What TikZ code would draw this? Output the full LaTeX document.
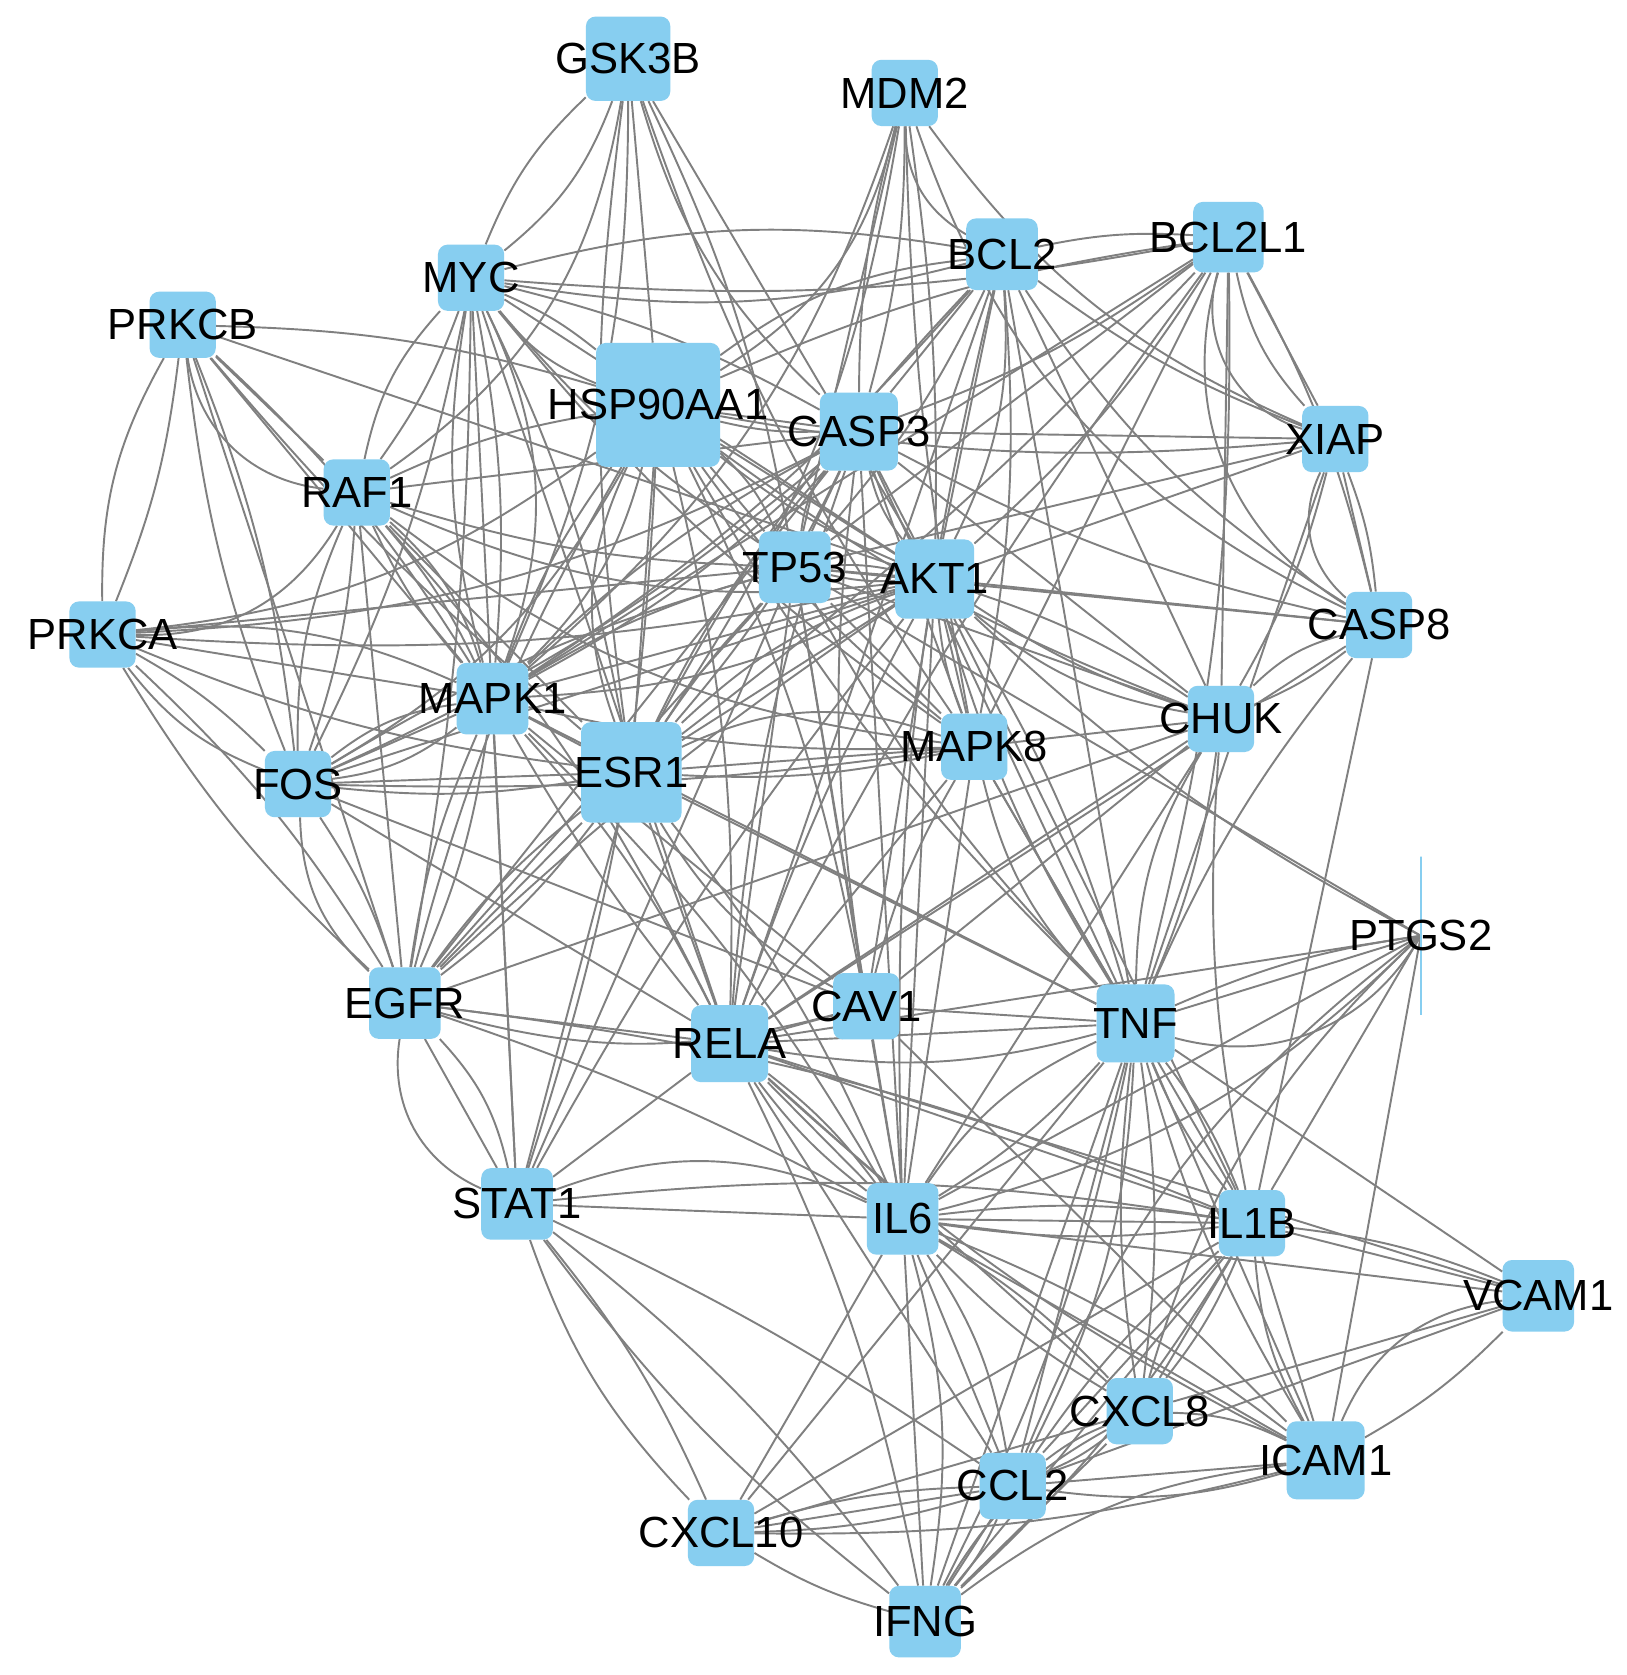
\documentclass[tikz,border=0pt]{standalone}
\usepackage{fontspec}
\setmainfont{Liberation Sans}
\usetikzlibrary{backgrounds}
\definecolor{nodeblue}{RGB}{135,206,240}
\definecolor{edgegray}{RGB}{128,128,128}
\begin{document}
\begin{tikzpicture}[x=1pt,y=-1pt,
  gene/.style={rectangle,rounded corners=9pt,fill=nodeblue,draw=none,inner sep=0pt,minimum width=#1,minimum height=#1},
  lbl/.style={inner sep=0pt,text=black,font=\fontsize{40.8}{48}\selectfont},
  edge/.style={draw=edgegray,line width=1.8pt},
  ptgsbar/.style={rectangle,draw=nodeblue,line width=1.5pt,fill=none,inner sep=0pt,minimum width=0pt,minimum height=148pt}]
\useasboundingbox (0,0) rectangle (1523,1568);
% nodes
\node[gene=79pt] (gsk) at (588,55) {};
\node[gene=62pt] (mdm2) at (847,87) {};
\node[gene=67pt] (bcl2) at (938,238) {};
\node[gene=66pt] (bcl2l1) at (1150,222) {};
\node[gene=62pt] (myc) at (441,260) {};
\node[gene=62pt] (prkcb) at (171,304) {};
\node[gene=116pt] (hsp) at (616,379) {};
\node[gene=73pt] (casp3) at (804,404) {};
\node[gene=62pt] (xiap) at (1250,411) {};
\node[gene=62pt] (raf) at (334,461) {};
\node[gene=67pt] (tp53) at (744,531) {};
\node[gene=74pt] (akt1) at (875,542) {};
\node[gene=62pt] (casp8) at (1291,585) {};
\node[gene=62pt] (prkca) at (96,594) {};
\node[gene=67pt] (mapk1) at (461,654) {};
\node[gene=62pt] (chuk) at (1143,673) {};
\node[gene=62pt] (mapk8) at (912,699) {};
\node[gene=62pt] (fos) at (279,734) {};
\node[gene=94pt] (esr1) at (591,723) {};
\node[ptgsbar] (ptgs) at (1330,876) {};
\node[gene=67pt] (egfr) at (379,939) {};
\node[gene=62pt] (cav1) at (811,942) {};
\node[gene=72pt] (rela) at (683,977) {};
\node[gene=73pt] (tnf) at (1063,958) {};
\node[gene=67pt] (stat1) at (484,1127) {};
\node[gene=67pt] (il6) at (845,1141) {};
\node[gene=62pt] (il1b) at (1172,1145) {};
\node[gene=67pt] (vcam1) at (1440,1213) {};
\node[gene=62pt] (cxcl8) at (1067,1321) {};
\node[gene=73pt] (icam1) at (1241,1367) {};
\node[gene=62pt] (ccl2) at (948,1391) {};
\node[gene=62pt] (cxcl10) at (675,1435) {};
\node[gene=67pt] (ifng) at (866,1518) {};
% edges
\begin{pgfonlayer}{background}
\fill[white] (0,0) rectangle (1523,1568);
\foreach \a/\b/\c in {
gsk/myc/10, gsk/myc/-8, gsk/raf/15, gsk/mapk1/8, gsk/hsp/0, gsk/esr1/-5, gsk/tp53/5, gsk/akt1/0, gsk/casp3/-10, gsk/mapk8/-5,
mdm2/hsp/15, mdm2/casp3/5, mdm2/casp3/-5, mdm2/tp53/0, mdm2/akt1/3, mdm2/esr1/8, mdm2/mapk1/10, mdm2/bcl2/-20, mdm2/xiap/-10, mdm2/casp8/-15, mdm2/mapk8/-3,
bcl2/myc/8, bcl2/myc/-8, bcl2/hsp/-10, bcl2/casp3/0, bcl2/tp53/5, bcl2/akt1/0, bcl2/akt1/10, bcl2/mapk1/5, bcl2/esr1/-5, bcl2/mapk8/5, bcl2/bcl2l1/5, bcl2/xiap/-5, bcl2/casp8/-8, bcl2/chuk/0, bcl2/tnf/0, bcl2/il6/-5, bcl2/rela/0,
bcl2l1/myc/5, bcl2l1/xiap/-10, bcl2l1/xiap/0, bcl2l1/xiap/-30, bcl2l1/casp8/-25, bcl2l1/casp8/5, bcl2l1/casp3/5, bcl2l1/tp53/0, bcl2l1/akt1/5, bcl2l1/hsp/-5, bcl2l1/mapk1/0, bcl2l1/esr1/3, bcl2l1/mapk8/0, bcl2l1/chuk/0, bcl2l1/tnf/5, bcl2l1/rela/-3,
myc/hsp/5, myc/hsp/-10, myc/casp3/5, myc/tp53/-5, myc/akt1/0, myc/raf/5, myc/raf/-10, myc/mapk1/5, myc/mapk1/-8, myc/mapk1/15, myc/fos/5, myc/esr1/5, myc/egfr/3, myc/stat1/0, myc/mapk8/-5, myc/rela/0,
prkcb/hsp/5, prkcb/akt1/0, prkcb/raf/-25, prkcb/raf/0, prkcb/mapk1/0, prkcb/mapk1/5, prkcb/esr1/-3, prkcb/fos/5, prkcb/fos/-5, prkcb/prkca/5, prkcb/prkca/-10, prkcb/egfr/0,
raf/hsp/5, raf/casp3/0, raf/tp53/-5, raf/akt1/-10, raf/mapk1/5, raf/mapk1/-5, raf/mapk1/10, raf/mapk8/-10, raf/esr1/0, raf/fos/5, raf/fos/-8, raf/egfr/0, raf/prkca/20, raf/rela/5,
prkca/mapk1/0, prkca/mapk1/10, prkca/fos/5, prkca/fos/-10, prkca/egfr/5, prkca/egfr/-5, prkca/esr1/-5, prkca/hsp/-10, prkca/akt1/-5, prkca/tp53/0, prkca/casp3/-8,
mapk1/hsp/5, mapk1/hsp/-10, mapk1/casp3/5, mapk1/casp3/-5, mapk1/tp53/5, mapk1/akt1/0, mapk1/akt1/-8, mapk1/fos/10, mapk1/fos/-10, mapk1/fos/0, mapk1/esr1/0, mapk1/egfr/5, mapk1/egfr/-5, mapk1/stat1/0, mapk1/rela/5, mapk1/rela/-3, mapk1/cav1/0, mapk1/mapk8/-5, mapk1/tnf/0, mapk1/il6/5,
esr1/hsp/0, esr1/hsp/15, esr1/casp3/5, esr1/casp3/-5, esr1/tp53/3, esr1/akt1/0, esr1/akt1/8, esr1/fos/0, esr1/fos/5, esr1/egfr/5, esr1/egfr/-5, esr1/egfr/0, esr1/stat1/0, esr1/rela/0, esr1/cav1/-10, esr1/mapk8/0, esr1/mapk8/-5, esr1/mapk8/15, esr1/tnf/0, esr1/il6/5,
fos/mapk8/-3, fos/egfr/5, fos/egfr/-15, fos/rela/0, fos/cav1/0, fos/tp53/5, fos/akt1/0, fos/hsp/-10, fos/casp3/-5,
egfr/hsp/5, egfr/tp53/0, egfr/akt1/3, egfr/casp3/0, egfr/stat1/10, egfr/stat1/-25, egfr/stat1/0, egfr/rela/0, egfr/cav1/-10, egfr/il6/3, egfr/il1b/5,
stat1/tp53/0, stat1/akt1/3, stat1/hsp/-5, stat1/il6/0, stat1/il6/15, stat1/il1b/5, stat1/cxcl10/5, stat1/cxcl10/-8, stat1/ifng/5, stat1/ifng/-5, stat1/ccl2/3,
cav1/tp53/0, cav1/akt1/0, cav1/casp3/5, cav1/rela/0, cav1/tnf/0, cav1/il6/0, cav1/mapk8/5, cav1/chuk/0, cav1/icam1/0, cav1/hsp/-5,
rela/tp53/0, rela/akt1/3, rela/casp3/5, rela/hsp/-5, rela/chuk/0, rela/tnf/0, rela/tnf/-8, rela/il6/5, rela/il6/-5, rela/il6/0, rela/il1b/0, rela/cxcl8/0, rela/icam1/-5, rela/vcam1/0, rela/ccl2/0, rela/ifng/5, rela/stat1/0, rela/mapk8/0,
tnf/akt1/5, tnf/akt1/-5, tnf/tp53/5, tnf/casp3/0, tnf/casp8/5, tnf/chuk/10, tnf/chuk/-5, tnf/xiap/0, tnf/mapk8/0, tnf/mapk8/10, tnf/ptgs/-25, tnf/ptgs/0, tnf/ptgs/5, tnf/il6/5, tnf/il6/-10, tnf/il1b/5, tnf/il1b/-5, tnf/vcam1/0, tnf/icam1/0, tnf/icam1/-5, tnf/cxcl8/5, tnf/cxcl8/-5, tnf/ccl2/0, tnf/ccl2/8, tnf/cxcl10/0, tnf/ifng/0, tnf/ifng/5, tnf/hsp/5,
ptgs/tp53/0, ptgs/akt1/5, ptgs/il6/0, ptgs/il6/10, ptgs/il1b/0, ptgs/cxcl8/-10, ptgs/ccl2/-10, ptgs/icam1/0, ptgs/rela/0,
il6/il1b/5, il6/il1b/-5, il6/il1b/0, il6/vcam1/0, il6/icam1/0, il6/icam1/5, il6/cxcl8/5, il6/cxcl8/-5, il6/ccl2/0, il6/ccl2/8, il6/cxcl10/0, il6/ifng/0, il6/ifng/8, il6/akt1/0, il6/tp53/0, il6/mapk8/0, il6/casp3/0, il6/chuk/0,
il1b/vcam1/0, il1b/vcam1/5, il1b/icam1/0, il1b/icam1/-8, il1b/cxcl8/0, il1b/cxcl8/5, il1b/ccl2/0, il1b/ccl2/-5, il1b/cxcl10/0, il1b/ifng/0, il1b/ifng/5, il1b/casp8/0, il1b/chuk/5, il1b/akt1/0, il1b/mapk8/0,
vcam1/icam1/-20, vcam1/icam1/5, vcam1/cxcl8/0, vcam1/ccl2/0,
icam1/cxcl8/-8, icam1/ccl2/0, icam1/ccl2/8, icam1/cxcl10/5, icam1/ifng/-10,
cxcl8/ccl2/5, cxcl8/ccl2/-5, cxcl8/cxcl10/0, cxcl8/ifng/0, cxcl8/ifng/-10,
ccl2/cxcl10/5, ccl2/cxcl10/-5, ccl2/cxcl10/0, ccl2/ifng/0, ccl2/ifng/5,
cxcl10/ifng/-5,
xiap/casp3/0, xiap/casp8/-25, xiap/casp8/0, xiap/casp8/5, xiap/akt1/0, xiap/tp53/0, xiap/hsp/5, xiap/chuk/5,
casp8/casp3/5, casp8/tp53/0, casp8/akt1/0, casp8/chuk/-10, casp8/chuk/5, casp8/rela/0,
chuk/akt1/5, chuk/akt1/-5, chuk/akt1/10, chuk/tp53/0, chuk/casp3/0, chuk/hsp/5, chuk/mapk8/0, chuk/egfr/0,
mapk8/akt1/0, mapk8/akt1/5, mapk8/tp53/0, mapk8/casp3/0, mapk8/hsp/5,
tp53/akt1/0, tp53/akt1/5, tp53/akt1/-5, tp53/casp3/0, tp53/casp3/10, tp53/hsp/0, tp53/hsp/-8,
akt1/casp3/0, akt1/casp3/8, akt1/hsp/0, akt1/hsp/5, casp3/hsp/0, casp3/hsp/5}
{\pgfmathsetmacro\bb{1.5*\c}\draw[edge] (\a) to[bend left=\bb] (\b);}
\end{pgfonlayer}
% labels
\node[lbl] (gsk-t) at (gsk) {GSK3B};
\node[lbl] (mdm2-t) at (mdm2) {MDM2};
\node[lbl] (bcl2-t) at (bcl2) {BCL2};
\node[lbl] (bcl2l1-t) at (bcl2l1) {BCL2L1};
\node[lbl] (myc-t) at (myc) {MYC};
\node[lbl] (prkcb-t) at (prkcb) {PRKCB};
\node[lbl] (hsp-t) at (hsp) {HSP90AA1};
\node[lbl] (casp3-t) at (casp3) {CASP3};
\node[lbl] (xiap-t) at (xiap) {XIAP};
\node[lbl] (raf-t) at (raf) {RAF1};
\node[lbl] (tp53-t) at (tp53) {TP53};
\node[lbl] (akt1-t) at (akt1) {AKT1};
\node[lbl] (casp8-t) at (casp8) {CASP8};
\node[lbl] (prkca-t) at (prkca) {PRKCA};
\node[lbl] (mapk1-t) at (mapk1) {MAPK1};
\node[lbl] (chuk-t) at (chuk) {CHUK};
\node[lbl] (mapk8-t) at (mapk8) {MAPK8};
\node[lbl] (fos-t) at (fos) {FOS};
\node[lbl] (esr1-t) at (esr1) {ESR1};
\node[lbl] (ptgs-t) at (ptgs) {PTGS2};
\node[lbl] (egfr-t) at (egfr) {EGFR};
\node[lbl] (cav1-t) at (cav1) {CAV1};
\node[lbl] (rela-t) at (rela) {RELA};
\node[lbl] (tnf-t) at (tnf) {TNF};
\node[lbl] (stat1-t) at (stat1) {STAT1};
\node[lbl] (il6-t) at (il6) {IL6};
\node[lbl] (il1b-t) at (il1b) {IL1B};
\node[lbl] (vcam1-t) at (vcam1) {VCAM1};
\node[lbl] (cxcl8-t) at (cxcl8) {CXCL8};
\node[lbl] (icam1-t) at (icam1) {ICAM1};
\node[lbl] (ccl2-t) at (ccl2) {CCL2};
\node[lbl] (cxcl10-t) at (cxcl10) {CXCL10};
\node[lbl] (ifng-t) at (ifng) {IFNG};
\end{tikzpicture}
\end{document}
